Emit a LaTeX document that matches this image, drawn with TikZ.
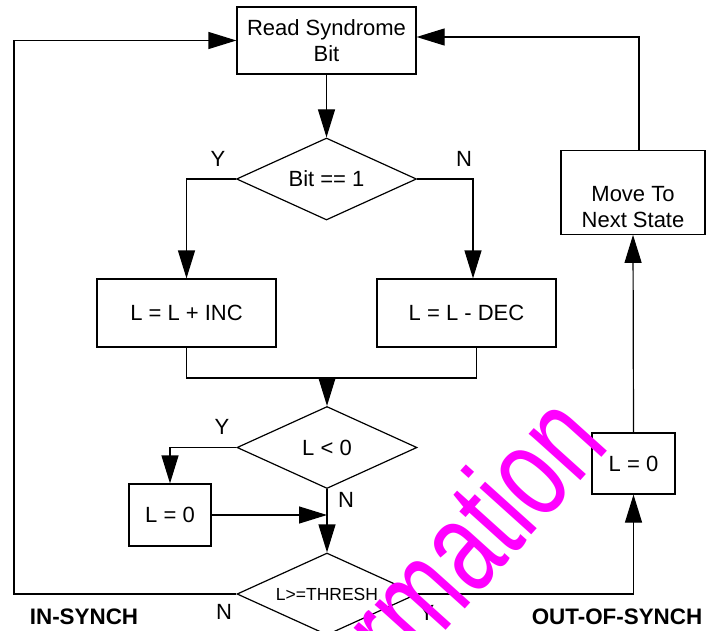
\documentclass[tikz,border=0pt]{standalone}
\usepackage{fontspec}
\setmainfont{Liberation Sans}
\usetikzlibrary{shapes.geometric,arrows.meta}
\definecolor{wmark}{RGB}{255,0,255}
\begin{document}
\begin{tikzpicture}[x=0.5pt, y=-0.5pt, >={Triangle[length=14pt,width=8.5pt]}, line width=.6pt,
    box/.style={draw, rectangle, align=center, font=\fontsize{11}{13}\selectfont},
    test/.style={draw, diamond, aspect=2.2, inner sep=0pt, minimum width=90pt, minimum height=41pt, font=\fontsize{11}{13}\selectfont},
    yn/.style={font=\fontsize{11}{13}\selectfont},
    synch/.style={font=\bfseries\fontsize{11.2}{13}\selectfont}]
        \useasboundingbox (0,0) rectangle (706,631);
        \clip (0,0) rectangle (706,631);
        \node[box, minimum width=89.5pt, minimum height=33.5pt] (read) at (326.5,40.5) {Read Syndrome\\Bit};
        \node[test] (bit) at (326.5,179) {Bit == 1};
        \node[box, minimum width=89.5pt, minimum height=34pt] (inc) at (186.5,313) {L = L + INC};
        \node[box, minimum width=89.5pt, minimum height=34pt] (dec) at (466.5,313) {L = L - DEC};
        \node[test] (lt) at (327,447.5) {L < 0};
        \node[box, minimum width=41pt, minimum height=31pt] (zl) at (170,515) {L = 0};
        \node[test, font=\fontsize{8.75}{10}\selectfont] (thr) at (327,594) {L>=THRESH};
        \node[box, minimum width=41.5pt, minimum height=30.5pt] (zr) at (633.5,463.5) {L = 0};
        \node[box, minimum width=72pt, minimum height=39.5pt] (move) at (633,192.5) {\rule{0pt}{22pt}Move To\\Next State};
        % branch labels
        \node[yn] (y1) at (218,159) {Y};
        \node[yn] (n1) at (464,159) {N};
        \node[yn] (y2) at (222,427) {Y};
        \node[yn] (n2) at (346,500) {N};
        \node[yn] (n3) at (224,612) {N};
        \node[yn] (y3) at (427,613) {Y};
        \node[synch] (ins) at (84,617) {IN-SYNCH};
        \node[synch] (oos) at (617,617) {OUT-OF-SYNCH};
        % connectors
        \coordinate (mrg) at (327,378);
        \coordinate (join) at (lt.south |- zl.east);
        \coordinate (lft) at (14,300);
        \draw[->] (read) -- (bit);
        \draw[->] (bit.west) -| (inc.north);
        \draw[->] (bit.east) -| ([xshift=3.25pt]dec.north);
        \draw (inc.south) |- (mrg) -| ([xshift=5pt]dec.south);
        \draw[->] (mrg) -- (lt.north);
        \draw[->] (lt.west) -| (zl.north);
        \draw[->] (zl.east) -- (join);
        \draw[->] (lt.south) -- (thr.north);
        \draw[->] (thr.west) -| (lft) |- (read.west);
        \draw[->] (thr.east) -| (zr.south);
        \draw[->] (zr.north) -- (move.south);
        \draw[->] ([xshift=3pt]move.north) |- ([yshift=1.75pt]read.east);
        % watermark
        \node[rotate=48, yscale=1.4, anchor=base east, inner sep=0pt, text=wmark, font=\fontsize{47}{47}\selectfont] (wm) at (612,446) {Information};
\end{tikzpicture}
\end{document}
